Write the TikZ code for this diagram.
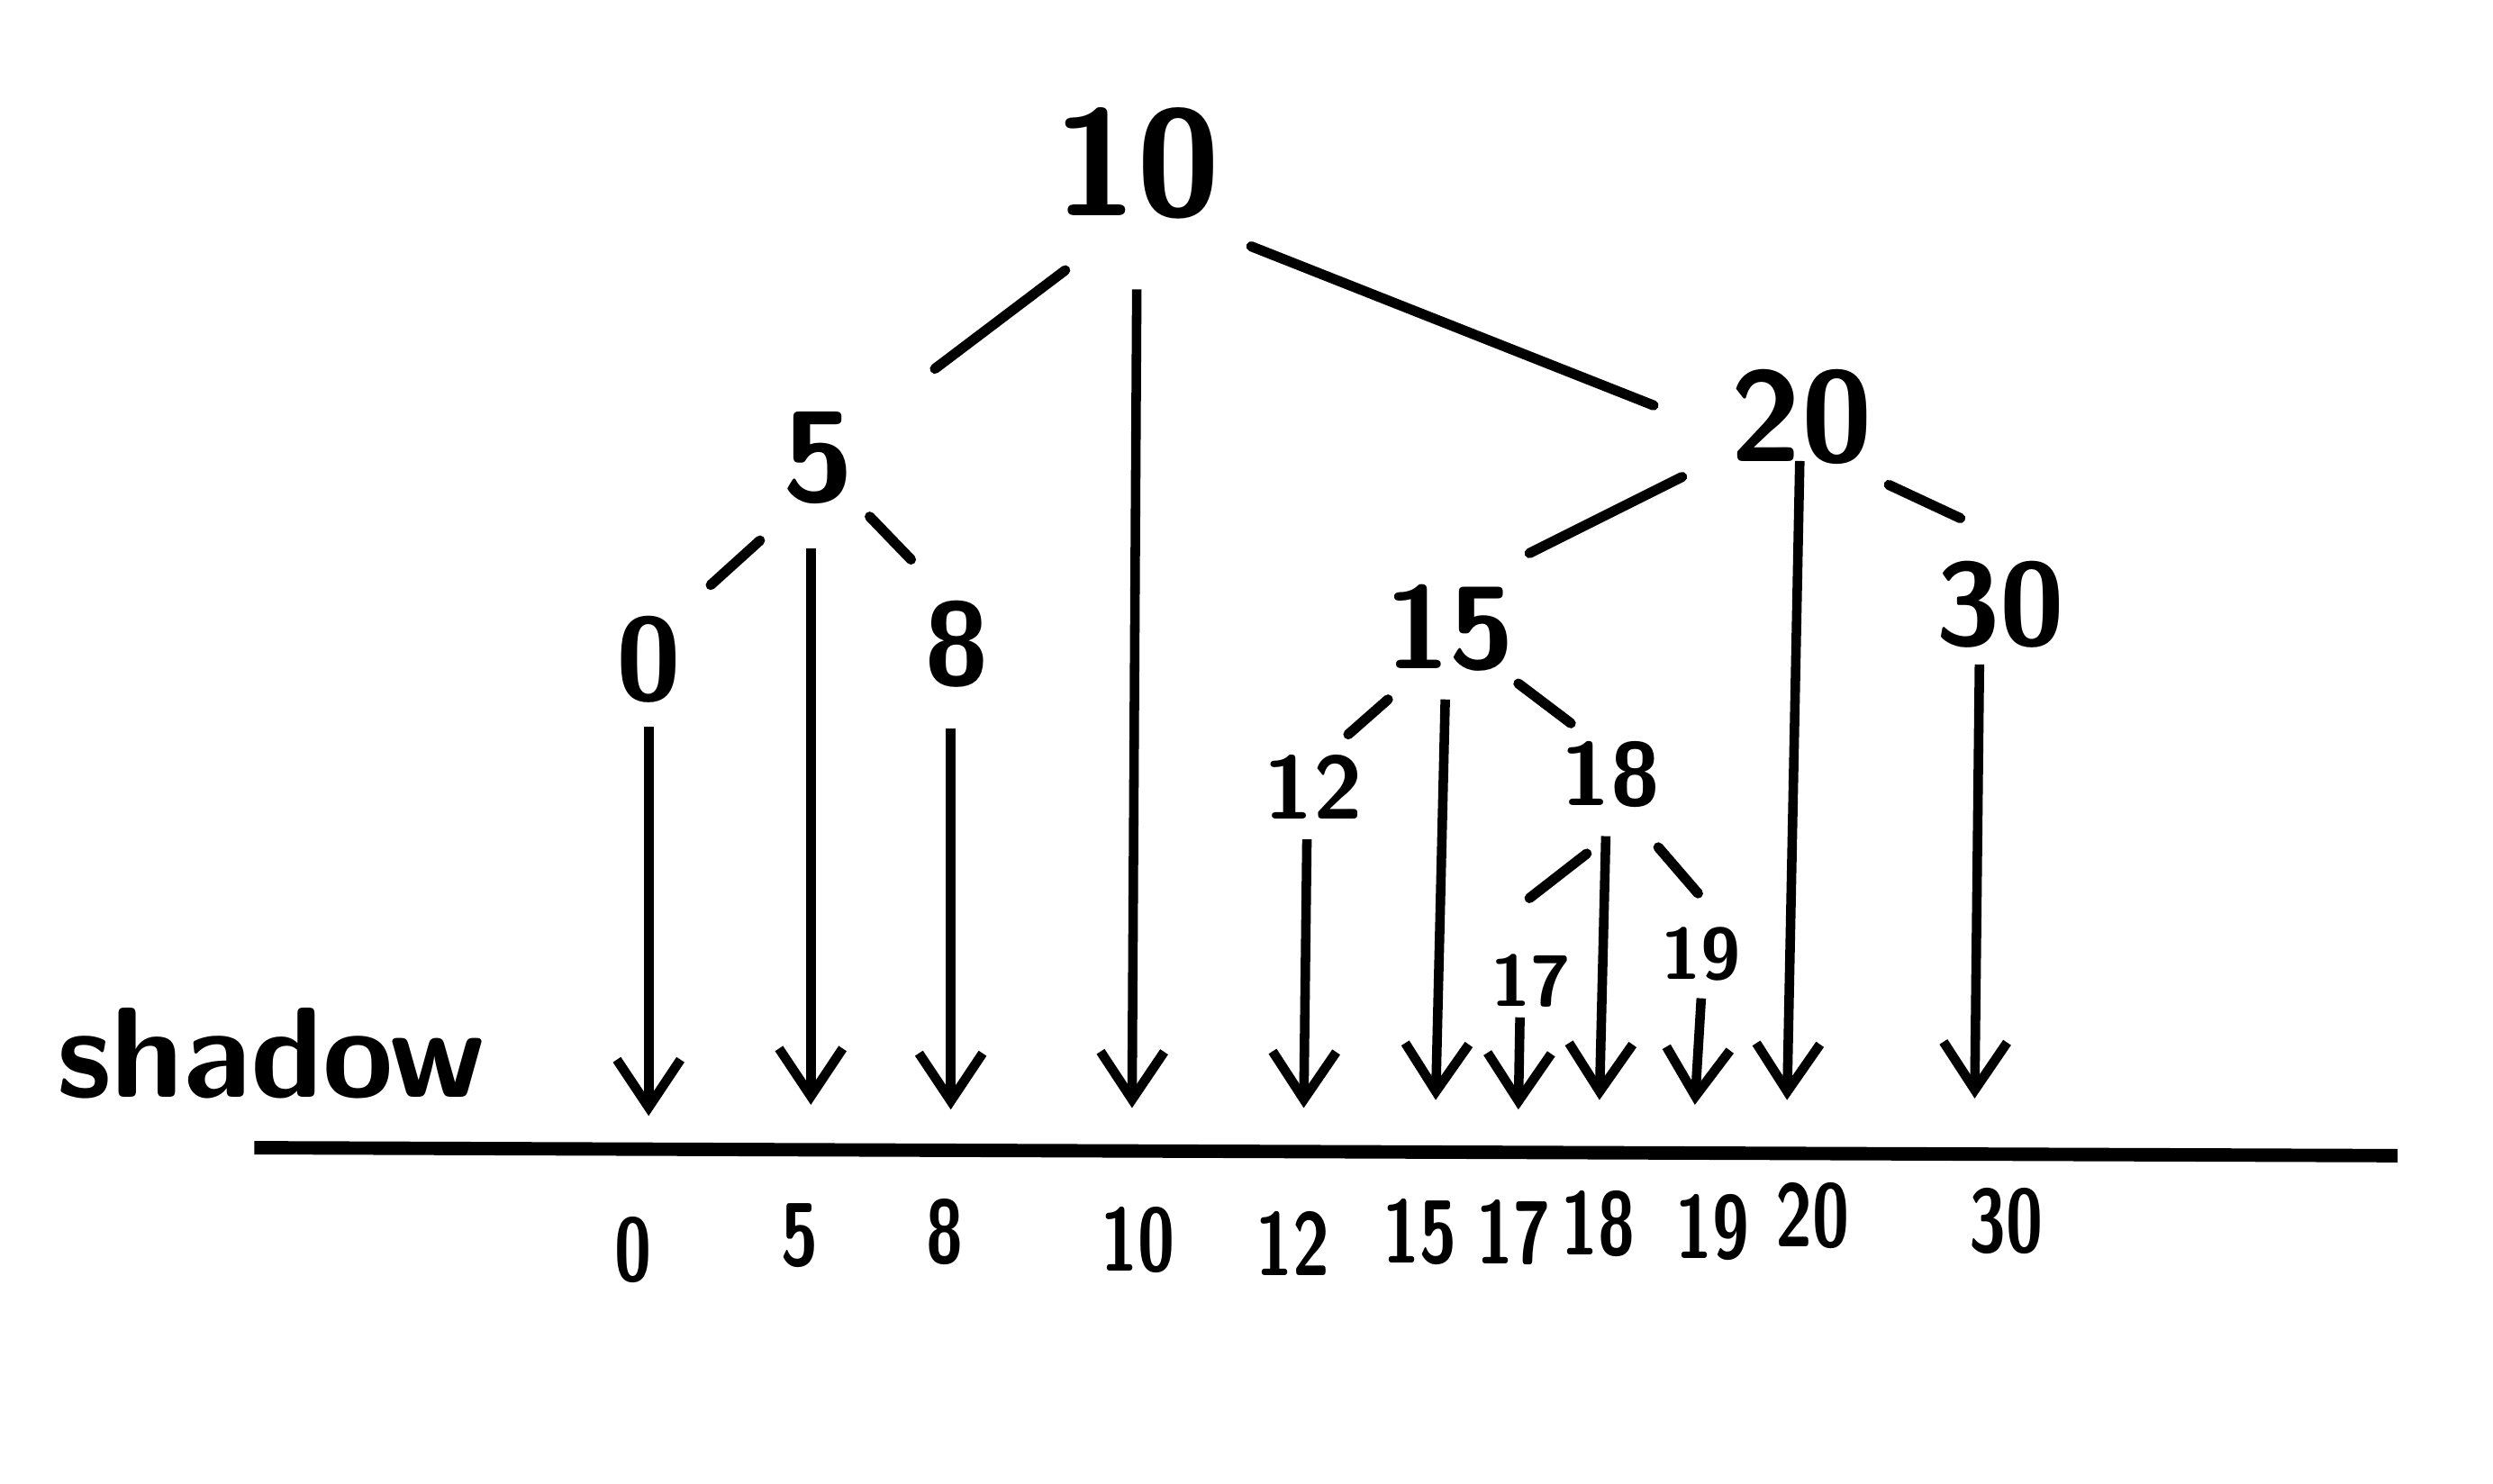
\documentclass[tikz,border=0pt]{standalone}
\usetikzlibrary{arrows.meta}
\begin{document}
\begin{tikzpicture}[x=0.01cm,y=-0.01cm,
  every node/.style={font=\sffamily\bfseries},
  edge/.style={line width=1.8pt,line cap=round},
  proj/.style={line width=1.7pt,-{Straight Barb[length=3mm,width=4mm,line width=1.7pt]}},
  lvA/.style={font=\sffamily\bfseries\fontsize{27}{32}\selectfont,inner sep=0pt},
  lvB/.style={font=\sffamily\bfseries\fontsize{23}{28}\selectfont,inner sep=0pt},
  lvC/.style={font=\sffamily\bfseries\fontsize{21}{26}\selectfont,inner sep=0pt},
  lvD/.style={font=\sffamily\bfseries\fontsize{16}{20}\selectfont,inner sep=0pt},
  lvE/.style={font=\sffamily\bfseries\fontsize{13}{17}\selectfont,inner sep=0pt},
  axlab/.style={font=\sffamily\bfseries\fontsize{16}{20}\selectfont,inner sep=0pt,xscale=0.75}]
\useasboundingbox (0,0) rectangle (1568,933);
% tree nodes
\node[lvA] (n10) at (715,103) {10};
\node[lvB] (n5) at (515,288) {5};
\node[lvB] (n20) at (1133,262) {20};
\node[lvC] (n0) at (408,415) {0};
\node[lvC] (n8) at (602,405) {8};
\node[lvC] (n15) at (912,395) {15};
\node[lvC] (n30) at (1258,380) {30};
\node[lvD] (n12) at (826,495) {12};
\node[lvD] (n18) at (1013,487) {18};
\node[lvE] (n17) at (963,617) {17};
\node[lvE] (n19) at (1070,600) {19};
% tree edges
\draw[edge] ([shift={(-45,67)}]n10.center) -- ([shift={(73,-56)}]n5.center);
\draw[edge] ([shift={(72,52)}]n10.center) -- ([shift={(-93,-7)}]n20.center);
\draw[edge] ([shift={(-37,52)}]n5.center) -- ([shift={(-68,80)}]n5.center);
\draw[edge] ([shift={(32,37)}]n5.center) -- ([shift={(58,64)}]n5.center);
\draw[edge] ([shift={(-75,38)}]n20.center) -- ([shift={(-171,86)}]n20.center);
\draw[edge] ([shift={(55,43)}]n20.center) -- ([shift={(100,64)}]n20.center);
\draw[edge] ([shift={(-39,45)}]n15.center) -- ([shift={(-64,67)}]n15.center);
\draw[edge] ([shift={(43,35)}]n15.center) -- ([shift={(76,60)}]n15.center);
\draw[edge] ([shift={(-15,50)}]n18.center) -- ([shift={(-51,78)}]n18.center);
\draw[edge] ([shift={(30,46)}]n18.center) -- ([shift={(55,75)}]n18.center);
% baseline
\coordinate (axL) at (160,722);
\coordinate (axR) at (1508,727);
\draw[line width=2.4pt] (axL) -- (axR);
% shadow label
\node[font=\sffamily\bfseries\fontsize{23}{28}\selectfont,inner sep=0pt,anchor=base west] (shadow) at (35,690) {shadow};
% projection targets
\coordinate (t0) at (408,702);
\coordinate (t5) at (510,695);
\coordinate (t8) at (598,698);
\coordinate (t10) at (712,697);
\coordinate (t12) at (820,697);
\coordinate (t15) at (903,692);
\coordinate (t17) at (955,698);
\coordinate (t18) at (1006,692);
\coordinate (t19) at (1066,695);
\coordinate (t20) at (1124,692);
\coordinate (t30) at (1242,691);
% projection arrows
\draw[proj] (408,457) -- (t0);
\draw[proj] (510,345) -- (t5);
\draw[proj] (598,458) -- (t8);
\draw[proj] (715,182) -- (t10);
\draw[proj] (822,528) -- (t12);
\draw[proj] (909,440) -- (t15);
\draw[proj] (956,640) -- (t17);
\draw[proj] (1010,526) -- (t18);
\draw[proj] (1070,628) -- (t19);
\draw[proj] (1132,290) -- (t20);
\draw[proj] (1245,418) -- (t30);
% axis labels
\node[axlab] (a0) at (398,786) {0};
\node[axlab] (a5) at (503,777) {5};
\node[axlab] (a8) at (594,775) {8};
\node[axlab] (a10) at (716,780) {10};
\node[axlab] (a12) at (813,782) {12};
\node[axlab] (a15) at (893,775) {15};
\node[axlab] (a17) at (952,775) {17};
\node[axlab] (a18) at (1005,770) {18};
\node[axlab] (a19) at (1077,772) {19};
\node[axlab] (a20) at (1140,765) {20};
\node[axlab] (a30) at (1262,768) {30};
\end{tikzpicture}
\end{document}
